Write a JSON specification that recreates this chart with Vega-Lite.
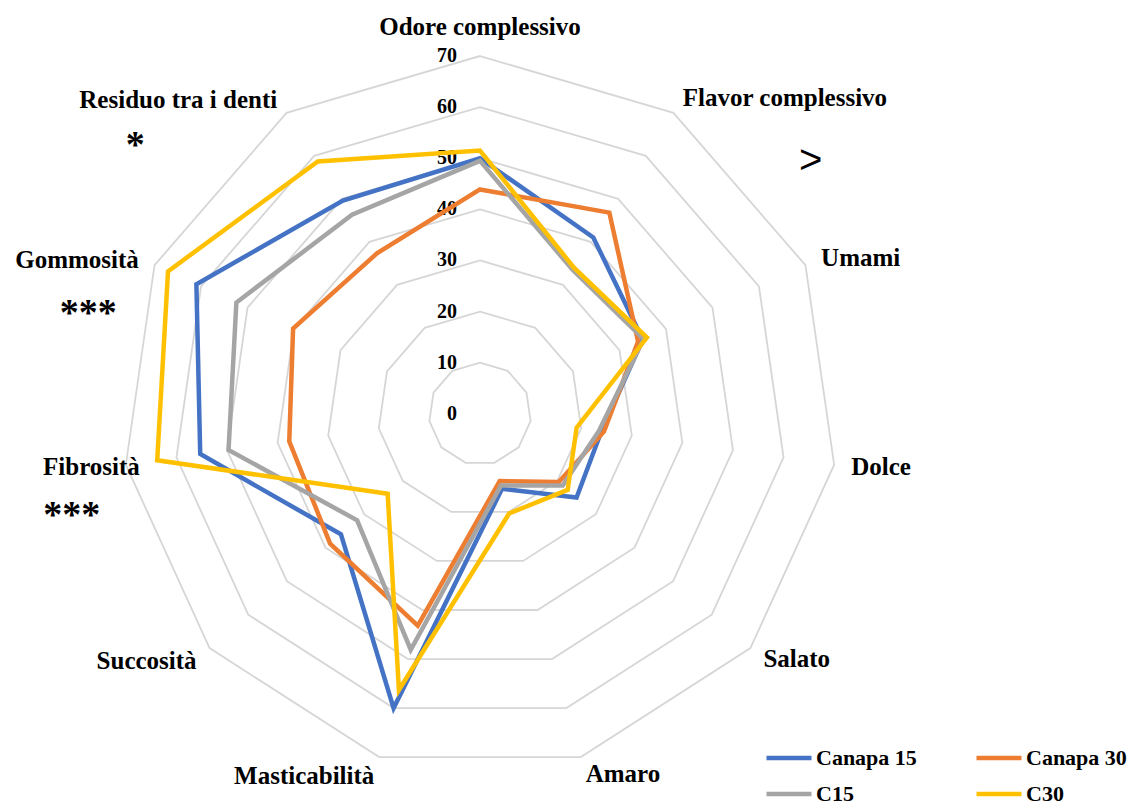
{
  "$schema": "https://vega.github.io/schema/vega-lite/v6.json",
  "width": 1135,
  "height": 805,
  "autosize": {"type": "none"},
  "padding": 0,
  "background": "white",
  "config": {
    "view": {"stroke": null},
    "text": {"font": "Liberation Serif", "fontWeight": "bold", "color": "black"}
  },
  "datasets": {
    "punteggi": [
      {"attributo": "Odore complessivo", "idx": 0, "campione": "Canapa 15", "valore": 50},
      {"attributo": "Flavor complessivo", "idx": 1, "campione": "Canapa 15", "valore": 41},
      {"attributo": "Umami", "idx": 2, "campione": "Canapa 15", "valore": 35},
      {"attributo": "Dolce", "idx": 3, "campione": "Canapa 15", "valore": 24},
      {"attributo": "Salato", "idx": 4, "campione": "Canapa 15", "valore": 25},
      {"attributo": "Amaro", "idx": 5, "campione": "Canapa 15", "valore": 15.3},
      {"attributo": "Masticabilità", "idx": 6, "campione": "Canapa 15", "valore": 60},
      {"attributo": "Succosità", "idx": 7, "campione": "Canapa 15", "valore": 36},
      {"attributo": "Fibrosità", "idx": 8, "campione": "Canapa 15", "valore": 55.3},
      {"attributo": "Gommosità", "idx": 9, "campione": "Canapa 15", "valore": 61},
      {"attributo": "Residuo tra i denti", "idx": 10, "campione": "Canapa 15", "valore": 49.6},
      {"attributo": "Odore complessivo", "idx": 0, "campione": "Canapa 30", "valore": 43.9},
      {"attributo": "Flavor complessivo", "idx": 1, "campione": "Canapa 30", "valore": 46.8},
      {"attributo": "Umami", "idx": 2, "campione": "Canapa 30", "valore": 34},
      {"attributo": "Dolce", "idx": 3, "campione": "Canapa 30", "valore": 24.5},
      {"attributo": "Salato", "idx": 4, "campione": "Canapa 30", "valore": 20.4},
      {"attributo": "Amaro", "idx": 5, "campione": "Canapa 30", "valore": 13.7},
      {"attributo": "Masticabilità", "idx": 6, "campione": "Canapa 30", "valore": 43.2},
      {"attributo": "Succosità", "idx": 7, "campione": "Canapa 30", "valore": 38.8},
      {"attributo": "Fibrosità", "idx": 8, "campione": "Canapa 30", "valore": 37.7},
      {"attributo": "Gommosità", "idx": 9, "campione": "Canapa 30", "valore": 40.2},
      {"attributo": "Residuo tra i denti", "idx": 10, "campione": "Canapa 30", "valore": 37.3},
      {"attributo": "Odore complessivo", "idx": 0, "campione": "C15", "valore": 49.5},
      {"attributo": "Flavor complessivo", "idx": 1, "campione": "C15", "valore": 33.5},
      {"attributo": "Umami", "idx": 2, "campione": "C15", "valore": 35.2},
      {"attributo": "Dolce", "idx": 3, "campione": "C15", "valore": 23.5},
      {"attributo": "Salato", "idx": 4, "campione": "C15", "valore": 21.4},
      {"attributo": "Amaro", "idx": 5, "campione": "C15", "valore": 14.6},
      {"attributo": "Masticabilità", "idx": 6, "campione": "C15", "valore": 48.1},
      {"attributo": "Succosità", "idx": 7, "campione": "C15", "valore": 31.8},
      {"attributo": "Fibrosità", "idx": 8, "campione": "C15", "valore": 49.7},
      {"attributo": "Gommosità", "idx": 9, "campione": "C15", "valore": 52.4},
      {"attributo": "Residuo tra i denti", "idx": 10, "campione": "C15", "valore": 46.3},
      {"attributo": "Odore complessivo", "idx": 0, "campione": "C30", "valore": 51.5},
      {"attributo": "Flavor complessivo", "idx": 1, "campione": "C30", "valore": 34},
      {"attributo": "Umami", "idx": 2, "campione": "C30", "valore": 35.9},
      {"attributo": "Dolce", "idx": 3, "campione": "C30", "valore": 19.1},
      {"attributo": "Salato", "idx": 4, "campione": "C30", "valore": 22.7},
      {"attributo": "Amaro", "idx": 5, "campione": "C30", "valore": 20.3},
      {"attributo": "Masticabilità", "idx": 6, "campione": "C30", "valore": 56.3},
      {"attributo": "Succosità", "idx": 7, "campione": "C30", "valore": 23.9},
      {"attributo": "Fibrosità", "idx": 8, "campione": "C30", "valore": 63.8},
      {"attributo": "Gommosità", "idx": 9, "campione": "C30", "valore": 67.1},
      {"attributo": "Residuo tra i denti", "idx": 10, "campione": "C30", "valore": 58.7}
    ],
    "griglia": [
      {"livello": 10, "idx": [0, 1, 2, 3, 4, 5, 6, 7, 8, 9, 10]},
      {"livello": 20, "idx": [0, 1, 2, 3, 4, 5, 6, 7, 8, 9, 10]},
      {"livello": 30, "idx": [0, 1, 2, 3, 4, 5, 6, 7, 8, 9, 10]},
      {"livello": 40, "idx": [0, 1, 2, 3, 4, 5, 6, 7, 8, 9, 10]},
      {"livello": 50, "idx": [0, 1, 2, 3, 4, 5, 6, 7, 8, 9, 10]},
      {"livello": 60, "idx": [0, 1, 2, 3, 4, 5, 6, 7, 8, 9, 10]},
      {"livello": 70, "idx": [0, 1, 2, 3, 4, 5, 6, 7, 8, 9, 10]}
    ],
    "livelli": [
      {"livello": 0}, {"livello": 10}, {"livello": 20}, {"livello": 30},
      {"livello": 40}, {"livello": 50}, {"livello": 60}, {"livello": 70}
    ],
    "attributi": [
      {"idx": 0, "nome": "Odore complessivo", "sig": ""},
      {"idx": 1, "nome": "Flavor complessivo", "sig": ">"},
      {"idx": 2, "nome": "Umami", "sig": ""},
      {"idx": 3, "nome": "Dolce", "sig": ""},
      {"idx": 4, "nome": "Salato", "sig": ""},
      {"idx": 5, "nome": "Amaro", "sig": ""},
      {"idx": 6, "nome": "Masticabilità", "sig": ""},
      {"idx": 7, "nome": "Succosità", "sig": ""},
      {"idx": 8, "nome": "Fibrosità", "sig": "***"},
      {"idx": 9, "nome": "Gommosità", "sig": "***"},
      {"idx": 10, "nome": "Residuo tra i denti", "sig": "*"}
    ]
  },
  "layer": [
    {
      "data": {"name": "griglia"},
      "transform": [
        {"flatten": ["idx"]},
        {"calculate": "datum.idx * 2 * PI / 11", "as": "ang"},
        {"calculate": "datum.livello * sin(datum.ang)", "as": "px"},
        {"calculate": "datum.livello * cos(datum.ang)", "as": "py"}
      ],
      "mark": {"type": "line", "interpolate": "linear-closed", "stroke": "#d6d6d6", "strokeWidth": 1.8, "clip": false},
      "encoding": {
        "x": {"field": "px", "type": "quantitative", "scale": {"domain": [-93.91, 128.15], "nice": false, "zero": false}, "axis": null},
        "y": {"field": "py", "type": "quantitative", "scale": {"domain": [-76.53, 80.96], "nice": false, "zero": false}, "axis": null},
        "detail": {"field": "livello", "type": "nominal"},
        "order": {"field": "idx", "type": "quantitative"}
      }
    },
    {
      "data": {"name": "livelli"},
      "mark": {"type": "text", "align": "right", "baseline": "middle", "dx": -23, "fontSize": 20},
      "encoding": {
        "x": {"datum": 0, "type": "quantitative"},
        "y": {"field": "livello", "type": "quantitative"},
        "text": {"field": "livello", "type": "quantitative"}
      }
    },
    {
      "data": {"name": "punteggi"},
      "transform": [
        {"calculate": "datum.idx * 2 * PI / 11", "as": "ang"},
        {"calculate": "datum.valore * sin(datum.ang)", "as": "px"},
        {"calculate": "datum.valore * cos(datum.ang)", "as": "py"}
      ],
      "mark": {"type": "line", "interpolate": "linear-closed", "strokeWidth": 4.5, "clip": false},
      "encoding": {
        "x": {"field": "px", "type": "quantitative"},
        "y": {"field": "py", "type": "quantitative"},
        "color": {
          "field": "campione",
          "type": "nominal",
          "scale": {"domain": ["Canapa 15", "Canapa 30", "C15", "C30"], "range": ["#4472C4", "#ED7D31", "#A5A5A5", "#FFC000"]},
          "legend": {
            "title": null,
            "orient": "none",
            "legendX": 764,
            "legendY": 733,
            "columns": 2,
            "direction": "horizontal",
            "symbolType": "stroke",
            "symbolSize": 2025,
            "symbolStrokeWidth": 4.5,
            "labelFont": "Liberation Serif",
            "labelFontWeight": "bold",
            "labelFontSize": 22,
            "labelColor": "black",
            "labelOffset": 2,
            "columnPadding": 50,
            "rowPadding": -6,
            "padding": 0
          }
        },
        "order": {"field": "idx", "type": "quantitative"}
      }
    },
    {
      "data": {"name": "attributi"},
      "transform": [
        {"filter": "datum.idx >= 1 && datum.idx <= 5"},
        {"calculate": "datum.idx * 2 * PI / 11", "as": "ang"},
        {"calculate": "73.37 * sin(datum.ang)", "as": "px"},
        {"calculate": "73.37 * cos(datum.ang)", "as": "py"}
      ],
      "mark": {"type": "text", "align": "left", "baseline": "middle", "fontSize": 25},
      "encoding": {
        "x": {"field": "px", "type": "quantitative"},
        "y": {"field": "py", "type": "quantitative"},
        "text": {"field": "nome"}
      }
    },
    {
      "data": {"name": "attributi"},
      "transform": [
        {"filter": "datum.idx == 6 || datum.idx == 7 || datum.idx == 9 || datum.idx == 10"},
        {"calculate": "datum.idx * 2 * PI / 11", "as": "ang"},
        {"calculate": "73.37 * sin(datum.ang)", "as": "px"},
        {"calculate": "73.37 * cos(datum.ang)", "as": "py"}
      ],
      "mark": {"type": "text", "align": "right", "baseline": "middle", "fontSize": 25, "dy": 2},
      "encoding": {
        "x": {"field": "px", "type": "quantitative"},
        "y": {"field": "py", "type": "quantitative"},
        "text": {"field": "nome"}
      }
    },
    {
      "data": {"name": "attributi"},
      "transform": [
        {"filter": "datum.idx == 8"},
        {"calculate": "datum.idx * 2 * PI / 11", "as": "ang"},
        {"calculate": "73.37 * sin(datum.ang)", "as": "px"},
        {"calculate": "73.37 * cos(datum.ang)", "as": "py"}
      ],
      "mark": {"type": "text", "align": "right", "baseline": "middle", "fontSize": 25, "dx": 31},
      "encoding": {
        "x": {"field": "px", "type": "quantitative"},
        "y": {"field": "py", "type": "quantitative"},
        "text": {"field": "nome"}
      }
    },
    {
      "data": {"name": "attributi"},
      "transform": [
        {"filter": "datum.idx == 0"},
        {"calculate": "datum.idx * 2 * PI / 11", "as": "ang"},
        {"calculate": "73.37 * sin(datum.ang)", "as": "px"},
        {"calculate": "73.37 * cos(datum.ang)", "as": "py"}
      ],
      "mark": {"type": "text", "align": "center", "baseline": "bottom", "fontSize": 25, "dy": 1.5},
      "encoding": {
        "x": {"field": "px", "type": "quantitative"},
        "y": {"field": "py", "type": "quantitative"},
        "text": {"field": "nome"}
      }
    },
    {
      "data": {"name": "attributi"},
      "transform": [
        {"filter": "datum.idx == 10"},
        {"calculate": "datum.idx * 2 * PI / 11", "as": "ang"},
        {"calculate": "73.37 * sin(datum.ang)", "as": "px"},
        {"calculate": "73.37 * cos(datum.ang)", "as": "py"}
      ],
      "mark": {"type": "text", "align": "center", "baseline": "middle", "fontSize": 38, "dx": -142, "dy": 48},
      "encoding": {
        "x": {"field": "px", "type": "quantitative"},
        "y": {"field": "py", "type": "quantitative"},
        "text": {"field": "sig"}
      }
    },
    {
      "data": {"name": "attributi"},
      "transform": [
        {"filter": "datum.idx == 9"},
        {"calculate": "datum.idx * 2 * PI / 11", "as": "ang"},
        {"calculate": "73.37 * sin(datum.ang)", "as": "px"},
        {"calculate": "73.37 * cos(datum.ang)", "as": "py"}
      ],
      "mark": {"type": "text", "align": "center", "baseline": "middle", "fontSize": 38, "dx": -50.6, "dy": 56},
      "encoding": {
        "x": {"field": "px", "type": "quantitative"},
        "y": {"field": "py", "type": "quantitative"},
        "text": {"field": "sig"}
      }
    },
    {
      "data": {"name": "attributi"},
      "transform": [
        {"filter": "datum.idx == 8"},
        {"calculate": "datum.idx * 2 * PI / 11", "as": "ang"},
        {"calculate": "73.37 * sin(datum.ang)", "as": "px"},
        {"calculate": "73.37 * cos(datum.ang)", "as": "py"}
      ],
      "mark": {"type": "text", "align": "center", "baseline": "middle", "fontSize": 38, "dx": -37, "dy": 49},
      "encoding": {
        "x": {"field": "px", "type": "quantitative"},
        "y": {"field": "py", "type": "quantitative"},
        "text": {"field": "sig"}
      }
    },
    {
      "data": {"name": "attributi"},
      "transform": [
        {"filter": "datum.idx == 1"},
        {"calculate": "datum.idx * 2 * PI / 11", "as": "ang"},
        {"calculate": "73.37 * sin(datum.ang)", "as": "px"},
        {"calculate": "73.37 * cos(datum.ang)", "as": "py"}
      ],
      "mark": {"type": "text", "align": "center", "baseline": "middle", "fontSize": 40, "font": "Liberation Sans", "fontWeight": "normal", "dx": 128, "dy": 63},
      "encoding": {
        "x": {"field": "px", "type": "quantitative"},
        "y": {"field": "py", "type": "quantitative"},
        "text": {"field": "sig"}
      }
    }
  ]
}
